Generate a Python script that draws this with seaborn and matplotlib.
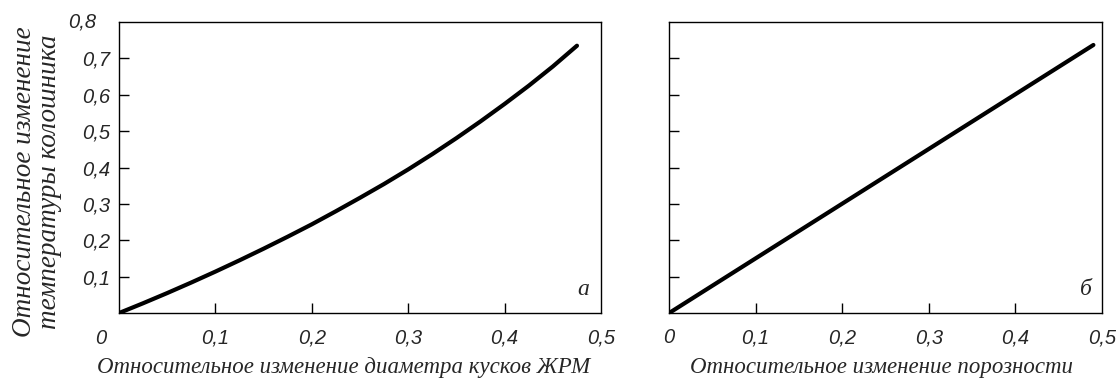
import numpy as np
import pandas as pd
import matplotlib
matplotlib.use("Agg")
import matplotlib.pyplot as plt
import seaborn as sns

# Panel a: relative change of ore-material piece diameter vs top-gas temperature
diam_x = [0.0, 0.025, 0.05, 0.075, 0.10, 0.125, 0.15, 0.175, 0.20, 0.225,
          0.25, 0.275, 0.30, 0.325, 0.35, 0.375, 0.40, 0.425, 0.45, 0.475]
diam_y = [0.0, 0.027, 0.055, 0.084, 0.114, 0.145, 0.177, 0.210, 0.244, 0.280,
          0.317, 0.355, 0.395, 0.437, 0.481, 0.527, 0.575, 0.625, 0.678, 0.735]

# Panel b: relative change of porosity vs top-gas temperature
por_x = [0.0, 0.49]
por_y = [0.0, 0.737]

x_ticks = [0.1, 0.2, 0.3, 0.4, 0.5]
x_tick_labels = ["0,1", "0,2", "0,3", "0,4", "0,5"]
y_ticks = [0.1, 0.2, 0.3, 0.4, 0.5, 0.6, 0.7]
y_tick_labels = ["0,1", "0,2", "0,3", "0,4", "0,5", "0,6", "0,7"]

sns.set_style("ticks")
plt.rcParams["font.family"] = ["Liberation Sans", "DejaVu Sans"]

serif = ["Liberation Serif", "DejaVu Serif"]
tick_fs = 14.5

fig = plt.figure(figsize=(11.16, 3.87), dpi=100)
ax1 = fig.add_axes([0.1066, 0.191, 0.432, 0.752])
ax2 = fig.add_axes([0.5995, 0.191, 0.388, 0.752])

df_a = pd.DataFrame({"x": diam_x, "y": diam_y})
df_b = pd.DataFrame({"x": por_x, "y": por_y})
sns.lineplot(data=df_a, x="x", y="y", ax=ax1, color="black", linewidth=3.0)
sns.lineplot(data=df_b, x="x", y="y", ax=ax2, color="black", linewidth=3.0)

for ax in (ax1, ax2):
    ax.set_xlim(0, 0.5)
    ax.set_ylim(0, 0.8)
    ax.set_xlabel("")
    ax.set_ylabel("")
    for sp in ax.spines.values():
        sp.set_visible(True)
        sp.set_linewidth(1.0)
        sp.set_color("black")
    ax.set_yticks(y_ticks)
    ax.tick_params(axis="both", direction="in", length=7, width=1.0,
                   color="black", labelsize=tick_fs)
    ax.tick_params(axis="x", pad=11)
    ax.tick_params(axis="y", pad=6.5)

# left panel ticks
ax1.set_xticks(x_ticks)
ax1.set_xticklabels(x_tick_labels, style="italic")
ax1.set_yticklabels(y_tick_labels, style="italic")
ax1.xaxis.get_major_ticks()[-1].tick1line.set_visible(False)
ax1.annotate("0,8", xy=(0, 0.8), xycoords=("axes fraction", "data"),
             xytext=(-6.5 - 7 * 100 / 72, 0), textcoords="offset points",
             ha="right", va="center", fontsize=tick_fs, style="italic")
ax1.annotate("0", xy=(0, 0), xycoords="axes fraction",
             xytext=(-13, -18), textcoords="offset points",
             ha="center", va="center", fontsize=tick_fs, style="italic")

# right panel ticks
ax2.set_xticks([0.0] + x_ticks)
ax2.set_xticklabels(["0"] + x_tick_labels, style="italic")
ax2.set_yticklabels([])
ax2.xaxis.get_major_ticks()[0].tick1line.set_visible(False)
ax2.xaxis.get_major_ticks()[-1].tick1line.set_visible(False)

ax1.text(0.963, 0.08, "а", transform=ax1.transAxes, ha="center", va="center",
         fontsize=17, style="italic", family=serif)
ax2.text(0.963, 0.08, "б", transform=ax2.transAxes, ha="center", va="center",
         fontsize=17, style="italic", family=serif)

fig.text(0.308, 0.05, "Относительное изменение диаметра кусков ЖРМ",
         ha="center", va="center", fontsize=16.5, style="italic", family=serif)
fig.text(0.790, 0.05, "Относительное изменение порозности",
         ha="center", va="center", fontsize=16.5, style="italic", family=serif)
fig.text(0.033, 0.53, "Относительное изменение\nтемпературы колошника",
         ha="center", va="center", rotation=90, fontsize=19.5, style="italic",
         family=serif, linespacing=1.0)

fig.savefig("out.png", dpi=100, facecolor="white")
